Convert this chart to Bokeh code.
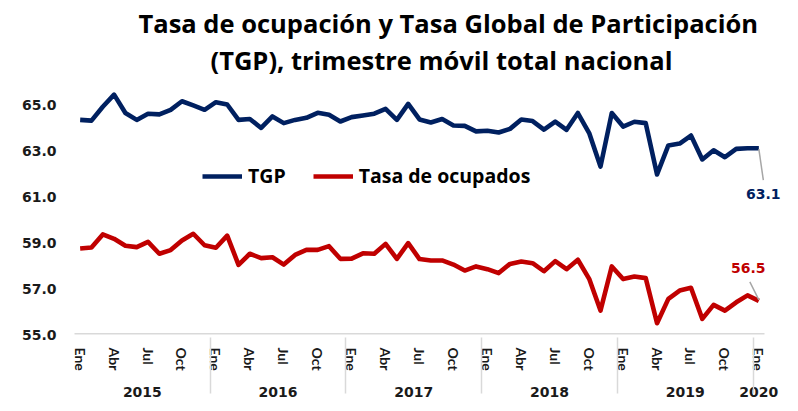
from bokeh.plotting import figure
from bokeh.models import (FactorRange, Range1d, Legend, LegendItem, FixedTicker, Label, Title,
                          CustomJSTickFormatter, ColumnDataSource, NumeralTickFormatter)
from bokeh.transform import dodge
from bokeh.embed import file_html
from bokeh.resources import INLINE

# ---------------- data ----------------
years = ["2015", "2016", "2017", "2018", "2019", "2020"]
months = ["Ene", "Feb", "Mar", "Abr", "May", "Jun", "Jul", "Ago", "Sep", "Oct", "Nov", "Dic"]
shown_months = ["Ene", "Abr", "Jul", "Oct"]

tgp = [64.33, 64.30, 64.90, 65.43, 64.63, 64.33, 64.60, 64.57, 64.77, 65.14, 64.96, 64.77,
       65.10, 65.00, 64.33, 64.37, 63.98, 64.48, 64.19, 64.33, 64.42, 64.64, 64.55, 64.26,
       64.45, 64.52, 64.60, 64.81, 64.33, 65.03, 64.35, 64.22, 64.37, 64.09, 64.07, 63.83,
       63.86, 63.78, 63.94, 64.35, 64.28, 63.91, 64.26, 63.90, 64.63, 63.76, 62.30, 64.63,
       64.04, 64.25, 64.19, 61.96, 63.22, 63.30, 63.65, 62.61, 63.01, 62.71, 63.07, 63.10,
       63.10]
ocupados = [58.74, 58.78, 59.35, 59.16, 58.86, 58.80, 59.03, 58.51, 58.67, 59.09, 59.38, 58.88,
            58.77, 59.30, 58.03, 58.51, 58.32, 58.36, 58.04, 58.46, 58.68, 58.68, 58.84, 58.29,
            58.30, 58.53, 58.51, 58.94, 58.29, 58.97, 58.28, 58.22, 58.22, 58.04, 57.78, 57.96,
            57.84, 57.67, 58.07, 58.17, 58.10, 57.75, 58.19, 57.84, 58.25, 57.42, 56.04, 57.96,
            57.41, 57.52, 57.45, 55.49, 56.55, 56.91, 57.03, 55.68, 56.29, 56.04, 56.40, 56.70,
            56.46]
y_ticks = [55, 57, 59, 61, 63, 65]
series_names = ["TGP", "Tasa de ocupados"]
title_lines = ["Tasa de ocupación y Tasa Global de Participación",
               "(TGP), trimestre móvil total nacional"]

# ---------------- layout constants ----------------
BLUE = "#002060"
RED = "#C00000"
GRAY = "#D9D9D9"
LEAD = "#A6A6A6"
W, H = 790, 408
CAT_LEFT, CAT_RIGHT = 74, 764          # where the categories sit (pixels)
PAD = 18                               # extra frame room on each side (pixels)
ML = CAT_LEFT - PAD
MR = W - (CAT_RIGHT + PAD)
MT, MB = 85, H - 334
FRAME_H = H - MT - MB

factors = [(y, m) for y in years[:-1] for m in months] + [(years[-1], months[0])]
UNIT = (CAT_RIGHT - CAT_LEFT) / len(factors)     # pixels per category
Y0 = 55.0
Y1 = Y0 + FRAME_H / 23.0
px_y = (Y1 - Y0) / FRAME_H                       # data units per pixel
px_x = 1.0 / UNIT                                # category units per pixel
last_x_synthetic = len(factors) - 0.5            # centre of the last category

p = figure(width=W, height=H, output_backend="svg", toolbar_location=None, title=None,
           x_range=FactorRange(*factors, range_padding=PAD / UNIT,
                               range_padding_units="absolute",
                               factor_padding=0, group_padding=0),
           y_range=Range1d(Y0, Y1),
           min_border_left=ML, min_border_right=MR, min_border_top=MT, min_border_bottom=MB)

# two-line title: second line closest to the frame, a thin spacer on top
t2 = Title(text=title_lines[1], align="left", offset=210 - ML, standoff=18,
           text_font="Open Sans", text_font_size="25.5px", text_font_style="bold",
           text_color="#000000")
t1 = Title(text=title_lines[0], align="left", offset=138 - ML, standoff=-16,
           text_font="Open Sans", text_font_size="25.5px", text_font_style="bold",
           text_color="#000000")
t0 = Title(text=" ", align="left", standoff=6, text_font_size="1px")
p.add_layout(t2, "above")
p.add_layout(t1, "above")
p.add_layout(t0, "above")

p.outline_line_color = None
p.grid.visible = False
p.background_fill_color = "white"
p.border_fill_color = "white"

src = ColumnDataSource(dict(x=factors, tgp=tgp, ocu=ocupados))

# bottom axis line spanning just the categories
base_src = ColumnDataSource(dict(x0=[factors[0]], x1=[factors[-1]], y=[Y0]))
p.segment(x0=dodge("x0", -0.5, range=p.x_range), x1=dodge("x1", 0.5, range=p.x_range),
          y0="y", y1="y", source=base_src, line_color=GRAY, line_width=3)

r1 = p.line("x", "tgp", source=src, color=BLUE, line_width=4.6, line_join="round")
r2 = p.line("x", "ocu", source=src, color=RED, line_width=4.6, line_join="round")

# leader lines for the last values
lead_tgp = ColumnDataSource(dict(x=[factors[-1]], y0=[tgp[-1] - 1 * px_y],
                                 y1=[tgp[-1] - 32 * px_y]))
p.segment(x0=dodge("x", 0, range=p.x_range), y0="y0",
          x1=dodge("x", 4.5 * px_x, range=p.x_range), y1="y1", source=lead_tgp,
          line_color=LEAD, line_width=1.5)
lead_ocu = ColumnDataSource(dict(x=[factors[-1]], y0=[ocupados[-1] + 1 * px_y],
                                 y1=[ocupados[-1] + 19 * px_y]))
p.segment(x0=dodge("x", 0, range=p.x_range), y0="y0",
          x1=dodge("x", -9 * px_x, range=p.x_range), y1="y1", source=lead_ocu,
          line_color=LEAD, line_width=1.5)

# last-value labels
for val, dy, dx, col in [(tgp[-1], -46, 4.5, BLUE), (ocupados[-1], 33, -10.5, RED)]:
    p.add_layout(Label(x=last_x_synthetic, y=val + dy * px_y, text=f"{val:.1f}",
                       x_offset=dx, text_align="center", text_baseline="middle",
                       text_font="DejaVu Sans", text_font_style="bold",
                       text_font_size="14px", text_color=col))

legend = Legend(items=[LegendItem(label=series_names[0], renderers=[r1]),
                       LegendItem(label=series_names[1], renderers=[r2])],
                location=(202 - ML, 145), orientation="horizontal",
                glyph_width=40, glyph_height=20, label_standoff=6, spacing=27,
                padding=0, margin=0, border_line_alpha=0, background_fill_alpha=0,
                label_text_font="Open Sans", label_text_font_style="bold",
                label_text_font_size="19.5px", label_text_color="#000000")
p.add_layout(legend)

# y axis
ya = p.yaxis[0]
ya.ticker = FixedTicker(ticks=y_ticks)
ya.formatter = NumeralTickFormatter(format="0.0")
ya.axis_line_color = None
ya.major_tick_line_color = None
ya.major_tick_out = 0
ya.major_tick_in = 0
ya.minor_tick_line_color = None
ya.major_label_standoff = 0
ya.major_label_text_font = "DejaVu Sans"
ya.major_label_text_font_style = "bold"
ya.major_label_text_font_size = "14px"
ya.major_label_text_color = "#1a1a1a"

# x axis
xa = p.xaxis[0]
xa.formatter = CustomJSTickFormatter(args=dict(shown=shown_months),
                                     code="return shown.includes(tick) ? tick : ''")
xa.axis_line_color = None
xa.major_tick_line_color = None
xa.major_tick_out = 0
xa.major_tick_in = 0
xa.minor_tick_line_color = None
xa.major_label_orientation = "vertical"
xa.major_label_standoff = 13
xa.major_label_text_font = "Lato"
xa.major_label_text_font_style = "bold"
xa.major_label_text_font_size = "14px"
xa.major_label_text_color = "#1a1a1a"
xa.group_text_font = "DejaVu Sans"
xa.group_text_font_style = "bold"
xa.group_text_font_size = "14px"
xa.group_text_color = "#1a1a1a"
xa.separator_line_color = GRAY
xa.separator_line_width = 1.5

open("out.html", "w").write(file_html(p, INLINE))
